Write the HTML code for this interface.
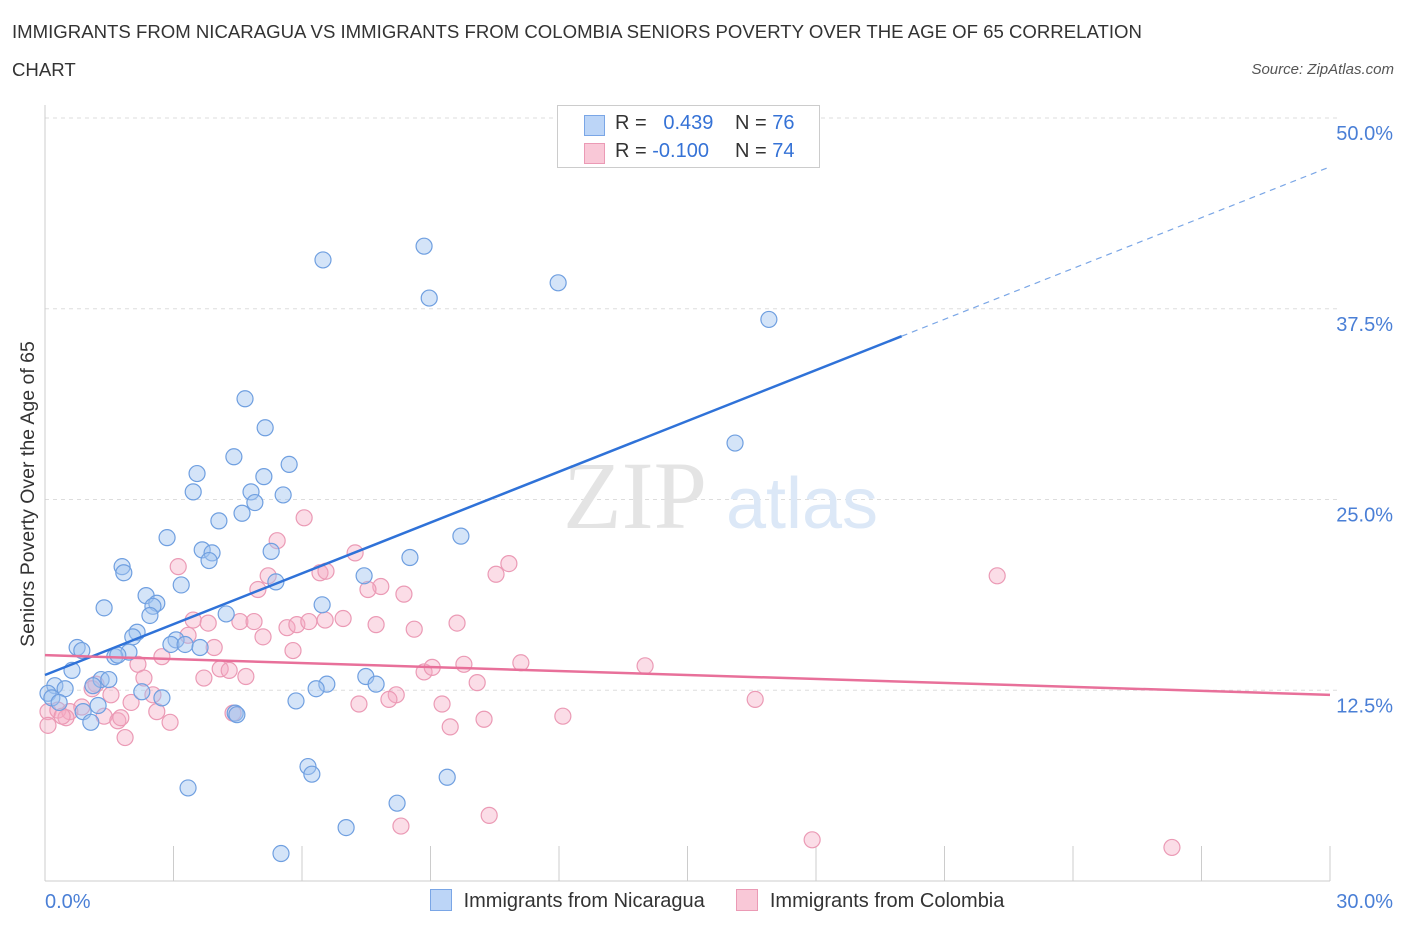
<!DOCTYPE html>
<html><head><meta charset="utf-8"><style>
body{margin:0;background:#fff;font-family:"Liberation Sans",sans-serif;}
#wrap{position:relative;width:1406px;height:930px;overflow:hidden;}
.t{position:absolute;color:#333;font-size:18.6px;}
</style></head><body>
<div id="wrap">
<div class="t" style="left:12px;top:21px;white-space:nowrap;">IMMIGRANTS FROM NICARAGUA VS IMMIGRANTS FROM COLOMBIA SENIORS POVERTY OVER THE AGE OF 65 CORRELATION</div>
<div class="t" style="left:12px;top:59px;">CHART</div>
<div class="t" style="right:12px;top:61px;font-size:15px;font-style:italic;color:#555;">Source: ZipAtlas.com</div>
<svg id="svg" width="1406" height="930" style="position:absolute;left:0;top:0"></svg>
</div>
<script>
const blueX=[6.49,8.85,8.97,11.98,16.90,4.67,5.14,16.11,4.41,3.55,5.70,5.11,3.46,4.81,5.56,4.90,4.60,4.06,2.85,9.71,3.67,3.90,3.83,5.28,8.52,1.80,1.84,3.18,5.39,7.45,2.36,2.61,2.52,1.38,6.47,4.23,2.45,2.15,2.05,3.06,2.94,3.27,3.62,0.75,0.86,1.96,1.63,1.70,0.63,1.31,1.49,0.23,0.47,7.49,7.73,6.58,6.33,1.12,0.07,0.16,2.26,2.73,5.86,0.33,1.24,0.89,1.07,4.44,4.48,6.14,6.23,9.39,3.34,8.22,7.03,5.51];
const blueY=[40.7,41.6,38.2,39.2,36.8,31.6,29.7,28.7,27.8,26.7,27.3,26.5,25.5,25.5,25.3,24.8,24.1,23.6,22.5,22.6,21.7,21.5,21.0,21.6,21.2,20.6,20.2,19.4,19.6,20.0,18.7,18.2,18.0,17.9,18.1,17.5,17.4,16.3,16.0,15.8,15.5,15.5,15.3,15.3,15.1,15.0,14.7,14.8,13.8,13.2,13.2,12.8,12.6,13.4,12.9,12.9,12.6,12.8,12.3,12.0,12.4,12.0,11.8,11.7,11.5,11.1,10.4,11.0,10.9,7.5,7.0,6.8,6.1,5.1,3.5,1.8];
const pinkX=[6.05,5.42,7.24,10.83,3.11,10.53,22.23,5.21,6.42,6.56,4.97,7.84,7.54,8.38,3.46,3.81,4.55,4.88,5.65,5.88,6.16,6.54,6.96,7.73,8.62,9.62,3.34,5.09,3.95,5.79,2.73,2.17,4.09,4.30,4.69,2.31,3.71,8.85,9.04,9.78,11.11,14.01,10.09,1.19,1.10,2.52,1.54,8.20,8.03,2.01,7.33,9.27,16.58,0.07,0.30,0.58,0.49,0.86,1.38,1.70,1.77,2.61,2.92,0.07,4.39,10.25,12.09,9.46,1.87,8.31,10.37,17.91,26.31,0.40];
const pinkY=[23.8,22.3,21.5,20.8,20.6,20.1,20.0,20.0,20.2,20.3,19.1,19.3,19.1,18.8,17.1,16.9,17.0,17.0,16.6,16.8,17.0,17.1,17.2,16.8,16.5,16.9,16.1,16.0,15.3,15.1,14.7,14.2,13.9,13.8,13.4,13.3,13.3,13.7,14.0,14.2,14.3,14.1,13.0,12.9,12.6,12.2,12.2,12.2,11.9,11.7,11.6,11.6,11.9,11.1,11.2,11.1,10.7,11.4,10.8,10.5,10.7,11.1,10.4,10.2,11.0,10.6,10.8,10.1,9.4,3.6,4.3,2.7,2.2,10.8];
const blueTrend=[13.5,46.8];
const pinkTrend=[14.8,12.2];
const yTicks=[12.5,25,37.5,50];
const yTickLabels=["12.5%","25.0%","37.5%","50.0%"];
const xTicks=[0,3,6,9,12,15,18,21,24,27,30];

const NS="http://www.w3.org/2000/svg";
const svg=document.getElementById('svg');
const X0=45,X1=1330,Y0=881,Y1=118;
const sx=v=>X0+(v/30)*(X1-X0);
const sy=v=>Y0-(v/50)*(Y0-Y1);
function mk(tag,attrs,parent){const e=document.createElementNS(NS,tag);for(const k in attrs)e.setAttribute(k,attrs[k]);(parent||svg).appendChild(e);return e;}

yTicks.forEach((v,i)=>{
 const g=mk('line',{x1:X0,x2:X1+10,y1:sy(v),y2:sy(v),stroke:'#ddd','stroke-dasharray':'4,4'});
 
 
 const t=mk('text',{x:1393,y:sy(v)+22,'text-anchor':'end','font-size':'20',fill:'#4a7fd6','font-family':'Liberation Sans, sans-serif'});
 t.textContent=yTickLabels[i];
 
 
});
const ax=mk('line',{x1:X0,x2:X0,y1:105,y2:Y0,stroke:'#ccc'});


const bx=mk('line',{x1:X0,x2:X1,y1:Y0,y2:Y0,stroke:'#ccc'});


xTicks.forEach(v=>{
 const l=mk('line',{x1:sx(v),x2:sx(v),y1:Y0,y2:Y0-35,stroke:'#ccc'});
 
 
});
[[0,"0.0%",'start',45],[30,"30.0%",'end',1393]].forEach(a=>{
 const t=mk('text',{x:a[3],y:908,'text-anchor':a[2],'font-size':'20',fill:'#4a7fd6','font-family':'Liberation Sans, sans-serif'});
 t.textContent=a[1];
 
 
});
const yt=mk('text',{x:0,y:0,transform:'translate(34,494) rotate(-90)','text-anchor':'middle','font-size':'19.5',fill:'#333','font-family':'Liberation Sans, sans-serif'});
yt.textContent='Seniors Poverty Over the Age of 65';


const w1=mk('text',{x:635,y:528,'text-anchor':'middle','font-size':'96',fill:'#e4e4e4','font-family':'Liberation Serif, serif'});
w1.textContent='ZIP';


const w2=mk('text',{x:802,y:528,'text-anchor':'middle','font-size':'72',fill:'#dce8f7','font-family':'Liberation Sans, sans-serif'});
w2.textContent='atlas';



pinkX.forEach((x,i)=>{
 const c=mk('circle',{cx:sx(x),cy:sy(pinkY[i]),r:8,fill:'rgba(244,170,195,0.4)',stroke:'#eb9ab5','stroke-width':1.2});
 
 
});
blueX.forEach((x,i)=>{
 const c=mk('circle',{cx:sx(x),cy:sy(blueY[i]),r:8,fill:'rgba(160,196,240,0.45)',stroke:'#6f9fe0','stroke-width':1.2});
 
 
});
const bxSplit=20;
const by=v=>blueTrend[0]+(blueTrend[1]-blueTrend[0])*v/30;
const bl=mk('line',{x1:sx(0),y1:sy(by(0)),x2:sx(bxSplit),y2:sy(by(bxSplit)),stroke:'#2f72d8','stroke-width':2.5});


const bd=mk('line',{x1:sx(bxSplit),y1:sy(by(bxSplit)),x2:sx(30),y2:sy(by(30)),stroke:'#7aa6e6','stroke-width':1.2,'stroke-dasharray':'6,5'});


const pl=mk('line',{x1:sx(0),y1:sy(pinkTrend[0]),x2:sx(30),y2:sy(pinkTrend[1]),stroke:'#e8709a','stroke-width':2.5});


</script>
<div style="position:absolute;left:557px;top:105px;width:261px;height:61px;border:1px solid #ccc;background:#fff;font-size:20px;">
 <div style="position:absolute;left:26px;top:9px;width:19px;height:19px;background:#bcd5f7;border:1px solid #7aa6e6;"></div>
 <div style="position:absolute;left:57px;top:6px;color:#333;">R = &nbsp;<span style="color:#3572d6">&nbsp;0.439</span></div>
 <div style="position:absolute;left:177px;top:6px;color:#333;">N = <span style="color:#3572d6">76</span></div>
 <div style="position:absolute;left:26px;top:37px;width:19px;height:19px;background:#f9c8d7;border:1px solid #eb9ab5;"></div>
 <div style="position:absolute;left:57px;top:34px;color:#333;">R = <span style="color:#3572d6">-0.100</span></div>
 <div style="position:absolute;left:177px;top:34px;color:#333;">N = <span style="color:#3572d6">74</span></div>
</div>
<div style="position:absolute;left:430px;top:889px;font-size:20px;color:#333;white-space:nowrap;">
 <span style="display:inline-block;width:20px;height:20px;background:#bcd5f7;border:1px solid #7aa6e6;vertical-align:-4px;"></span>
 <span style="margin-left:6px;">Immigrants from Nicaragua</span>
 <span style="display:inline-block;width:20px;height:20px;background:#f9c8d7;border:1px solid #eb9ab5;vertical-align:-4px;margin-left:26px;"></span>
 <span style="margin-left:6px;">Immigrants from Colombia</span>
</div>
</body></html>
